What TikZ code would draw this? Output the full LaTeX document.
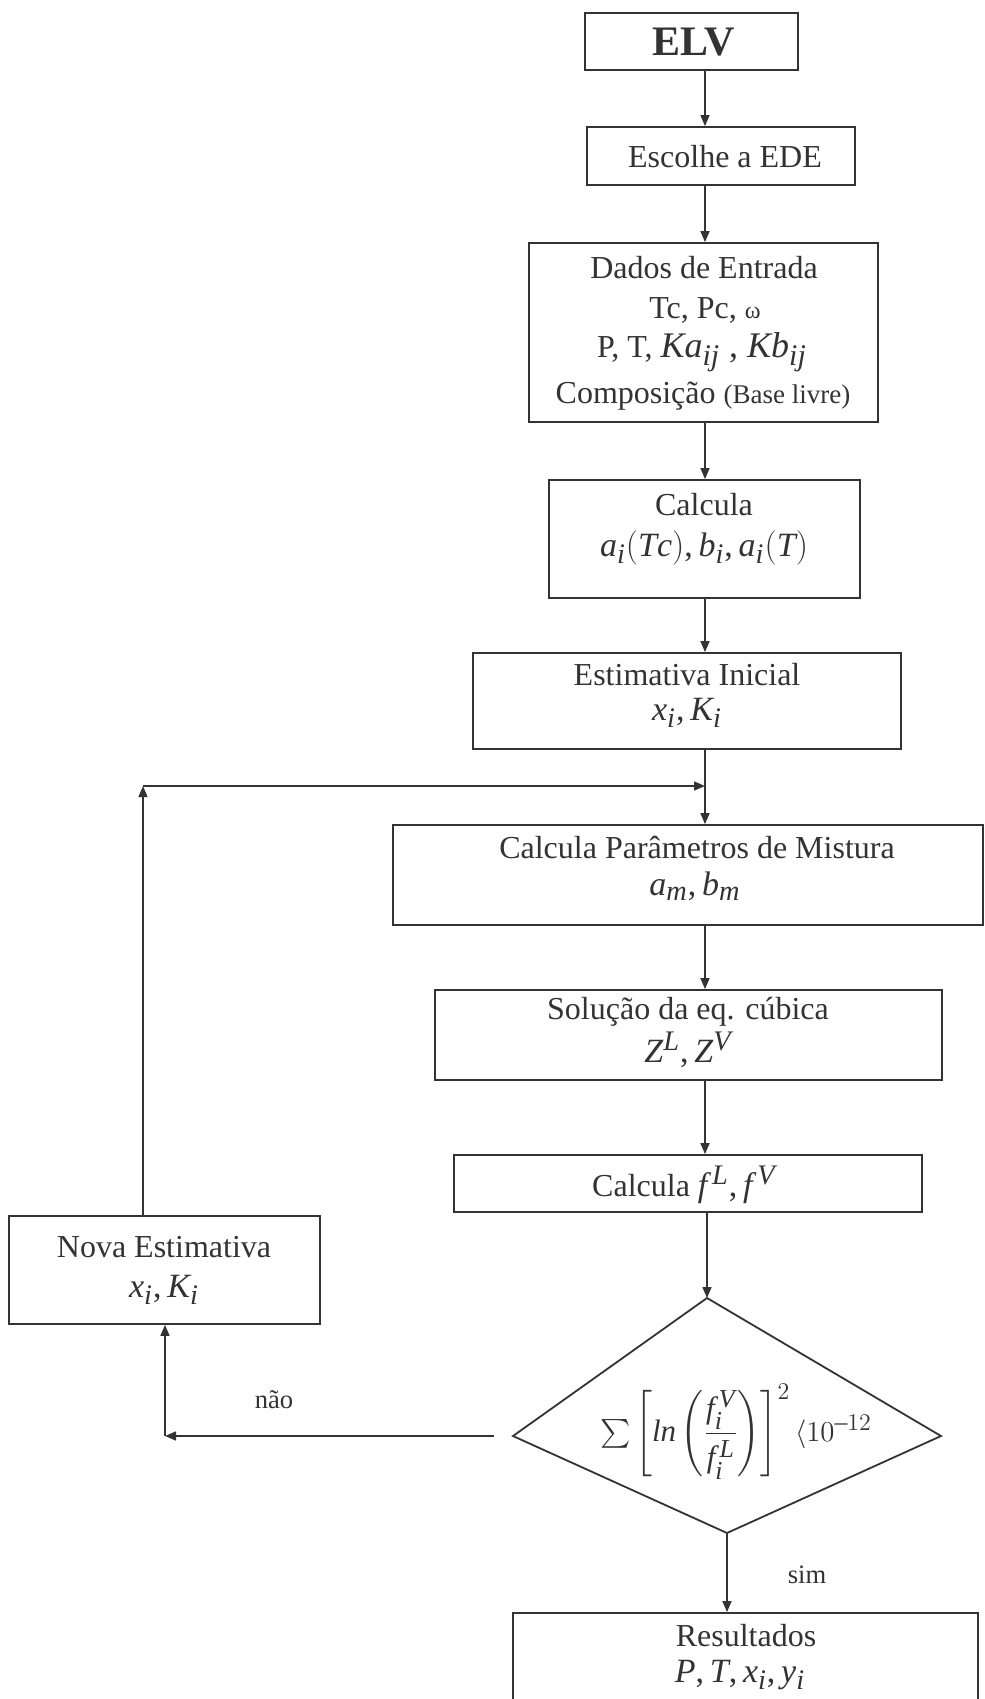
\documentclass[tikz,border=0pt]{standalone}
\usepackage{amsmath}
\usepackage{fontspec}
\setmainfont{Liberation Serif}
\usepackage[italic]{mathastext}
\usetikzlibrary{arrows.meta,calc}
\definecolor{ink}{rgb}{0.2,0.2,0.2}
\tikzset{
 box/.style={draw=ink, line width=0.9pt, rectangle, inner sep=0pt},
 txt/.style={inner sep=0pt, text=ink, font=\fontsize{16}{19}\selectfont},
 mth/.style={inner sep=0pt, text=ink, font=\fontsize{17}{20}\selectfont},
 lbl/.style={inner sep=0pt, text=ink, font=\fontsize{13.3}{16}\selectfont},
 arr/.style={draw=ink, line width=0.75pt, -{Triangle[length=5.5pt,width=4.5pt]}},
 ln/.style={draw=ink, line width=0.9pt},
}
\begin{document}
\begin{tikzpicture}[x=0.5pt,y=-0.5pt]
\path[use as bounding box] (0,0) rectangle (985,1699);
\clip (0,0) rectangle (985,1699);
\fill[white] (0,0) rectangle (985,1699);

% boxes (x from-to, y from-to in px; sizes in pt = px/2)
\node[box, minimum width=106.5pt, minimum height=28.5pt] (elv) at (691.5,41.5) {};   % 585-798, 13-70
\node[box, minimum width=134pt, minimum height=29pt] (ede) at (721,156) {};          % 587-855, 127-185
\node[box, minimum width=174.5pt, minimum height=89.5pt] (dados) at (703.5,332.5) {}; % 529-878, 243-422
\node[box, minimum width=155.5pt, minimum height=59pt] (calc) at (704.5,539) {};     % 549-860, 480-598
\node[box, minimum width=214pt, minimum height=48pt] (est) at (687,701) {};          % 473-901, 653-749
\node[box, minimum width=295pt, minimum height=50pt] (mist) at (688,875) {};         % 393-983, 825-925
\node[box, minimum width=253.5pt, minimum height=45pt] (sol) at (688.5,1035) {};     % 435-942, 990-1080
\node[box, minimum width=234pt, minimum height=28.5pt] (cf) at (688,1183.5) {};      % 454-922, 1155-1212
\node[box, minimum width=155.5pt, minimum height=54pt] (nova) at (164.5,1270) {};    % 9-320, 1216-1324
\node[box, minimum width=232.5pt, minimum height=55pt] (res) at (745.5,1668) {};     % 513-978, 1613-1723

% diamond
\coordinate (dtop) at (707,1298);
\coordinate (dright) at (941,1436);
\coordinate (dbot) at (727,1533);
\coordinate (dleft) at (513,1436);
\draw[ln] (dtop) -- (dright) -- (dbot) -- (dleft) -- cycle;

% texts
\node[txt, font=\fontsize{21}{25}\selectfont\bfseries] (telv) at (694,42) {ELV};
\node[txt] (tede) at (725,157) {Escolhe a EDE};
\node[txt] (td1) at (704,268) {Dados de Entrada};
\node[txt] (td2) at (705,310) {Tc, Pc, {\fontsize{12}{14}\selectfont ω}};
\node[txt] (td3) at (702,352) {P, T, {\fontsize{18}{21}\selectfont$Ka_{ij}$ , $Kb_{ij}$}};
\node[txt] (td4) at (703,396) {Composição {\fontsize{13.5}{16}\selectfont(Base livre)}};
\node[txt] (tc1) at (704,505) {Calcula};
\node[mth] (tc2) at (704,548) {$a_i(Tc), b_i, a_i(T)$};
\node[txt] (te1) at (687,675) {Estimativa Inicial};
\node[mth] (te2) at (687,713) {$x_i, K_i$};
\node[txt] (tm1) at (697,848) {Calcula Parâmetros de Mistura};
\node[mth] (tm2) at (695,886) {$a_m, b_m$};
\node[txt] (ts1) at (688,1012) {Solução da eq. cúbica};
\node[mth] (ts2) at (688,1050) {$Z^L, Z^V$};
\node[txt] (tf) at (684,1185) {Calcula {\fontsize{17}{20}\selectfont$f^{\,L}, f^{\,V}$}};
\node[txt] (tn1) at (164,1247) {Nova Estimativa};
\node[mth] (tn2) at (164,1290) {$x_i, K_i$};
\node[mth, font=\fontsize{15.5}{18}\selectfont] (fml) at (736,1432) {$\textstyle\sum\left[ln\left(\dfrac{f_i^{\,V}\rule[-5pt]{0pt}{0pt}}{\rule{0pt}{15pt}f_i^{\,L}}\right)\right]^2\langle 10^{-12}$};
\node[txt] (tr1) at (746,1636) {Resultados};
\node[mth] (tr2) at (740,1675) {$P, T, x_i, y_i$};
\node[lbl] (nao) at (274,1400) {não};
\node[lbl] (sim) at (807,1575) {sim};

% connectors
\coordinate (ax) at (705,0);
\draw[arr] (elv.south -| ax) -- (ede.north -| ax);
\draw[arr] (ede.south -| ax) -- (dados.north -| ax);
\draw[arr] (dados.south -| ax) -- (calc.north -| ax);
\draw[arr] (calc.south -| ax) -- (est.north -| ax);
\draw[arr] (est.south -| ax) -- (mist.north -| ax);
\draw[arr] (mist.south -| ax) -- (sol.north -| ax);
\draw[arr] (sol.south -| ax) -- (cf.north -| ax);
\draw[arr] (cf.south -| dtop) -- (dtop);
\draw[arr] (dbot) -- (res.north -| dbot);

\coordinate (lc) at (143,786);
\coordinate (lj) at (705,786);
\draw[arr] (nova.north -| lc) -- (lc);
\draw[arr] (lc) -- (lj);

\coordinate (nc) at (165,1436);
\coordinate (ns) at ($(dleft)+(-19,0)$);
\draw[arr] (ns) -- (nc);
\draw[arr] (nc) -- (nova.south -| nc);
\end{tikzpicture}
\end{document}
